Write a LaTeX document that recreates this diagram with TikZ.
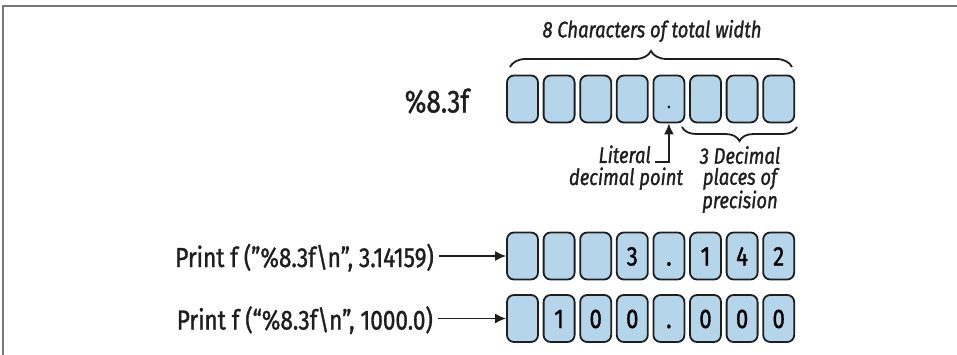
\documentclass[tikz,border=0pt]{standalone}
\usepackage{fontspec}
\setmainfont{Fira Sans}[FakeStretch=0.82,FakeBold=1.2]
\usetikzlibrary{decorations.pathreplacing,arrows.meta}
\definecolor{cellblue}{RGB}{180,213,234}
\definecolor{framegray}{RGB}{120,120,120}
\definecolor{ink}{RGB}{30,30,30}
\begin{document}
\begin{tikzpicture}[x=1pt,y=-1pt,
  cell/.style={draw=ink, line width=1.8pt, rounded corners=7pt, fill=cellblue,
    minimum width=31pt, minimum height=47pt, inner sep=0pt,
    text height=19pt, text depth=0pt, font=\fontsize{27}{30}\selectfont},
  note/.style={font=\fontsize{22.5}{21}\selectfont\itshape, inner sep=0pt, text=ink},
  code/.style={font=\fontsize{27.5}{30}\selectfont, inner sep=0pt, text=ink,
    text height=22pt, text depth=0pt},
  conn/.style={draw=ink, line width=1.8pt, -{Latex[length=11pt,width=10pt]}},
  brc/.style={draw=ink, line width=1.8pt, decorate}]
\useasboundingbox (0,0) rectangle (957,355);
\draw[framegray, line width=1.5pt] (3,355) -- (3,6) -- (957,6);

% row 1: format
\foreach \t [count=\i] in {{},{},{},{},{},{},{},{}}
  \node[cell] (a\i) at ({522.5+36.6*(\i-1)},99) {\t};
\node[font=\fontsize{18}{18}\selectfont, inner sep=0pt, text=ink, anchor=base] (pt) at (a5.center |- 0,108) {.};
\node[font=\fontsize{32}{32}\selectfont, inner sep=0pt, text=ink] (fmt) at (437,101) {\%8.3f};

% top brace and label
\coordinate (bl) at (510,67);
\coordinate (br) at (792,67);
\draw[brc, decoration={brace, amplitude=16pt}] (bl) -- (br);
\node[note] (total) at (652,31) {8 Characters of total width};

% literal decimal point
\node[note, anchor=base east] (lit) at (651,163) {Literal};
\node[note, anchor=base] (dec) at (626,185) {decimal point};
\coordinate (ls) at (655,162);
\draw[conn] (ls) -| (a5.south);

% lower brace and label
\coordinate (pr) at (797,127);
\coordinate (pl) at (682,127);
\draw[brc, decoration={brace, amplitude=14pt}] (pr) -- (pl);
\node[note, align=center, anchor=north] (prec) at (740,146)
  {3 Decimal\\places of\\precision};

% row 2
\foreach \t [count=\i] in {{},{},{},3,.,1,4,2}
  \node[cell] (b\i) at ({522.5+36.6*(\i-1)},256) {\t};
\node[code, anchor=east] (p1) at (434,256) {Print f ("\%8.3f\textbackslash n”, 3.14159)};
\draw[conn] ([xshift=5pt]p1.east) -- (b1.west);

% row 3
\foreach \t [count=\i] in {{},1,0,0,.,0,0,0}
  \node[cell] (c\i) at ({522.5+36.6*(\i-1)},318.5) {\t};
\node[code, anchor=east] (p2) at (433,318.5) {Print f (“\%8.3f\textbackslash n”, 1000.0)};
\draw[conn] ([xshift=5pt]p2.east) -- (c1.west);
\end{tikzpicture}
\end{document}
